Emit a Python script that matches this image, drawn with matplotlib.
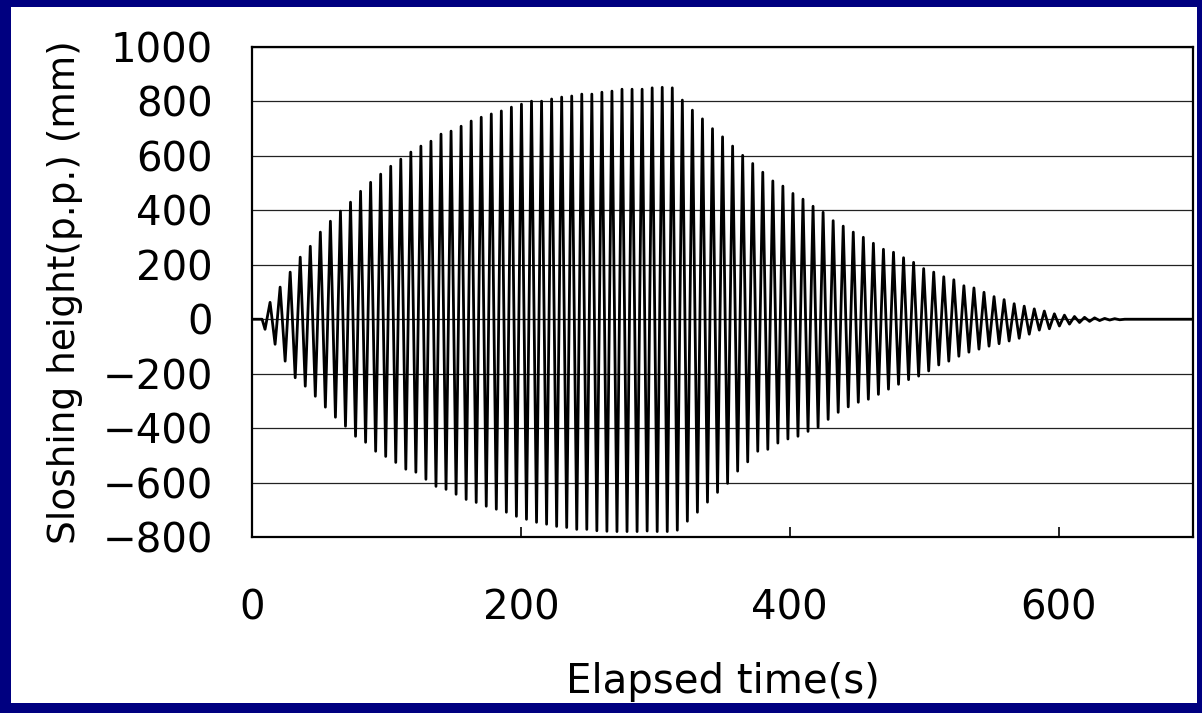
import numpy as np
import matplotlib.pyplot as plt
from matplotlib.patches import Rectangle

# sloshing record (mm), one value per half cycle
PERIOD = 7.48  # s, sloshing period
FIRST_TROUGH = 9.7  # s, time of the first trough
START_FLAT = 7.5  # s, record is flat before this
END_TIME = 700

TROUGHS = [
    -37, -92, -154, -215, -246, -283, -323, -360, -393, -430, -452, -485,
    -504, -526, -551, -562, -588, -614, -625, -643, -662, -673, -687, -698,
    -709, -724, -735, -746, -753, -761, -765, -772, -772, -777, -779, -780,
    -780, -780, -778, -780, -780, -775, -742, -709, -672, -636, -603, -558,
    -524, -485, -478, -455, -440, -430, -412, -397, -368, -342, -322, -305,
    -294, -276, -257, -239, -222, -209, -190, -168, -154, -136, -121, -110,
    -99, -90, -80, -70, -55, -40, -35, -25, -18, -12, -8, -5, -3, -2,
]
PEAKS = [
    62, 118, 173, 228, 268, 320, 360, 397, 430, 470, 503, 533,
    562, 588, 614, 636, 654, 680, 691, 709, 728, 742, 754, 765,
    779, 790, 801, 801, 809, 816, 820, 827, 827, 834, 838, 845,
    845, 845, 850, 852, 850, 805, 768, 736, 700, 670, 636, 602,
    572, 540, 508, 489, 462, 441, 415, 393, 362, 342, 320, 301,
    279, 257, 246, 226, 209, 186, 173, 156, 145, 123, 115, 99,
    83, 72, 57, 48, 38, 30, 20, 15, 10, 7, 5, 3, 2,
]

Y_TICKS = [-800, -600, -400, -200, 0, 200, 400, 600, 800, 1000]
X_TICKS = [0, 200, 400, 600]


def build_series():
    # alternate trough / peak samples, half a period apart
    t = [0.0, START_FLAT]
    h = [0.0, 0.0]
    for k, trough in enumerate(TROUGHS):
        t.append(FIRST_TROUGH + k * PERIOD)
        h.append(trough)
        if k < len(PEAKS):
            t.append(FIRST_TROUGH + (k + 0.5) * PERIOD)
            h.append(PEAKS[k])
    t.append(t[-1] + PERIOD / 2)
    h.append(0.0)
    t.append(END_TIME)
    h.append(0.0)
    return np.array(t), np.array(h)


def main():
    plt.rcParams['font.family'] = ['DejaVu Sans']
    fig = plt.figure(figsize=(12.02, 7.13), dpi=100)
    fig.patch.set_facecolor('#000080')
    # white slide area inside the blue border
    fig.patches.append(Rectangle((11 / 1202, 10 / 713), 1186 / 1202, 696 / 713,
                                 transform=fig.transFigure, facecolor='white',
                                 edgecolor='none', zorder=-10))

    ax = fig.add_axes([252 / 1202, 176 / 713, 941 / 1202, 490 / 713])
    ax.set_zorder(1)
    t, h = build_series()
    ax.plot(t, h, color='black', lw=2.0, zorder=3)

    ax.set_xlim(0, 700)
    ax.set_ylim(-800, 1000)
    ax.set_yticks(Y_TICKS)
    ax.set_xticks(X_TICKS)
    ax.yaxis.grid(True, color='#222222', lw=0.9)
    ax.set_axisbelow(True)
    for s in ax.spines.values():
        s.set_linewidth(1.6)
        s.set_color('black')

    ax.tick_params(axis='y', length=0, pad=28, labelsize=29)
    ax.tick_params(axis='x', direction='in', length=7, width=1.2,
                   pad=37, labelsize=29)

    ax.set_xlabel('Elapsed time(s)', fontsize=29, labelpad=24)
    ax.set_ylabel('Sloshing height(p.p.) (mm)', fontsize=27, labelpad=14)

    fig.savefig('out.png', dpi=100, facecolor=fig.get_facecolor())


if __name__ == "__main__":
    main()
